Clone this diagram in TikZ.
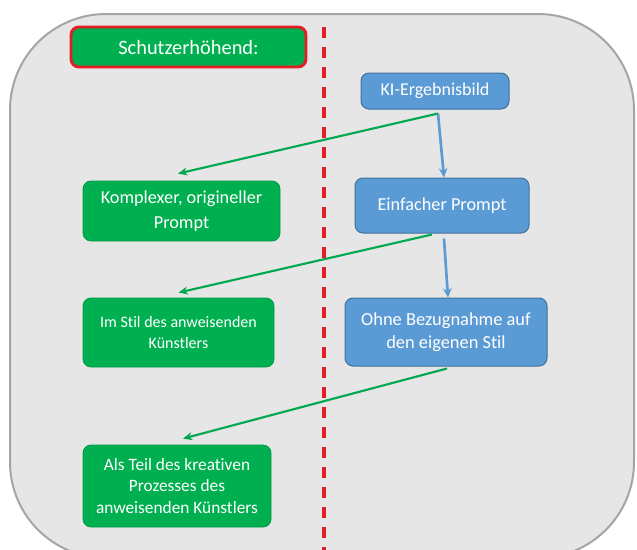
\documentclass[tikz,border=0pt]{standalone}
\usepackage{fontspec}
\setmainfont[Ligatures={NoCommon}]{Carlito}
\usetikzlibrary{arrows.meta,calc}
\definecolor{bg}{RGB}{231,230,230}
\definecolor{framec}{RGB}{165,165,165}
\definecolor{gbox}{RGB}{0,176,80}
\definecolor{gline}{RGB}{0,168,80}
\definecolor{bbox}{RGB}{91,155,213}
\definecolor{bedge}{RGB}{65,113,156}
\definecolor{rline}{RGB}{228,30,36}
\begin{document}
\begin{tikzpicture}[x=0.75pt,y=-0.75pt,
 gnode/.style={fill=gbox, draw=gbox!88!black, line width=0.6pt, rounded corners=6pt, text=white, align=center, inner sep=0pt},
 bnode/.style={fill=bbox, draw=bedge, line width=0.75pt, rounded corners=6pt, text=white, align=center, inner sep=0pt},
 garrow/.style={draw=gline, line width=1.6pt, -{Stealth[length=7pt,width=6pt]}},
 barrow/.style={draw=bbox, line width=2pt, -{Stealth[length=7pt,width=6.5pt]}},
]
\useasboundingbox (0,0) rectangle (637,550);
\fill[white] (0,0) rectangle (637,550);
\draw[fill=bg, draw=framec, line width=1.5pt, rounded corners=72pt] (10,14) rectangle (634,558);
\draw[rline, line width=2.6pt, dash pattern=on 8.5pt off 6.5pt] (324,27) -- (324,552);

\node[gnode, draw=rline, line width=2.2pt, minimum width=176.25pt, minimum height=30pt,
      font=\fontsize{15.3}{18}\selectfont] (title) at (188.5,47) {Schutzerhöhend:};

\node[bnode, minimum width=111pt, minimum height=27pt, font=\fontsize{13.5}{16}\selectfont]
  (ki) at (435,91) {KI-Ergebnisbild};
\node[bnode, minimum width=130.5pt, minimum height=41.25pt, font=\fontsize{13.7}{16}\selectfont]
  (einf) at (442,205.5) {Einfacher Prompt};
\node[bnode, minimum width=151.5pt, minimum height=51pt, font=\fontsize{13.8}{17.5}\selectfont]
  (ohne) at (446,332) {Ohne Bezugnahme auf\\den eigenen Stil};

\node[gnode, minimum width=147.75pt, minimum height=45pt, font=\fontsize{13.7}{18.75}\selectfont]
  (komp) at (181.5,211) {Komplexer, origineller\\Prompt};
\node[gnode, minimum width=143.25pt, minimum height=51.75pt, font=\fontsize{12}{15.5}\selectfont]
  (stil) at (178.5,332.5) {Im Stil des anweisenden\\Künstlers};
\node[gnode, minimum width=141pt, minimum height=61.5pt, font=\fontsize{13}{16}\selectfont]
  (als) at (177,486) {Als Teil des kreativen\\Prozesses des\\anweisenden Künstlers};

\draw[garrow] ($(ki.south)+(3,4)$) -- ($(komp.north)+(-3.5,-7)$);
\draw[barrow] ($(ki.south)+(3,4)$) -- ($(einf.north)+(2,0)$);
\draw[garrow] ($(einf.south)+(-10,1)$) -- ($(stil.north)+(0,-5)$);
\draw[barrow] ($(einf.south)+(2,5)$) -- ($(ohne.north)+(2,0)$);
\draw[garrow] ($(ohne.south)+(1,2)$) -- ($(als.north)+(6,-6)$);
\end{tikzpicture}
\end{document}
